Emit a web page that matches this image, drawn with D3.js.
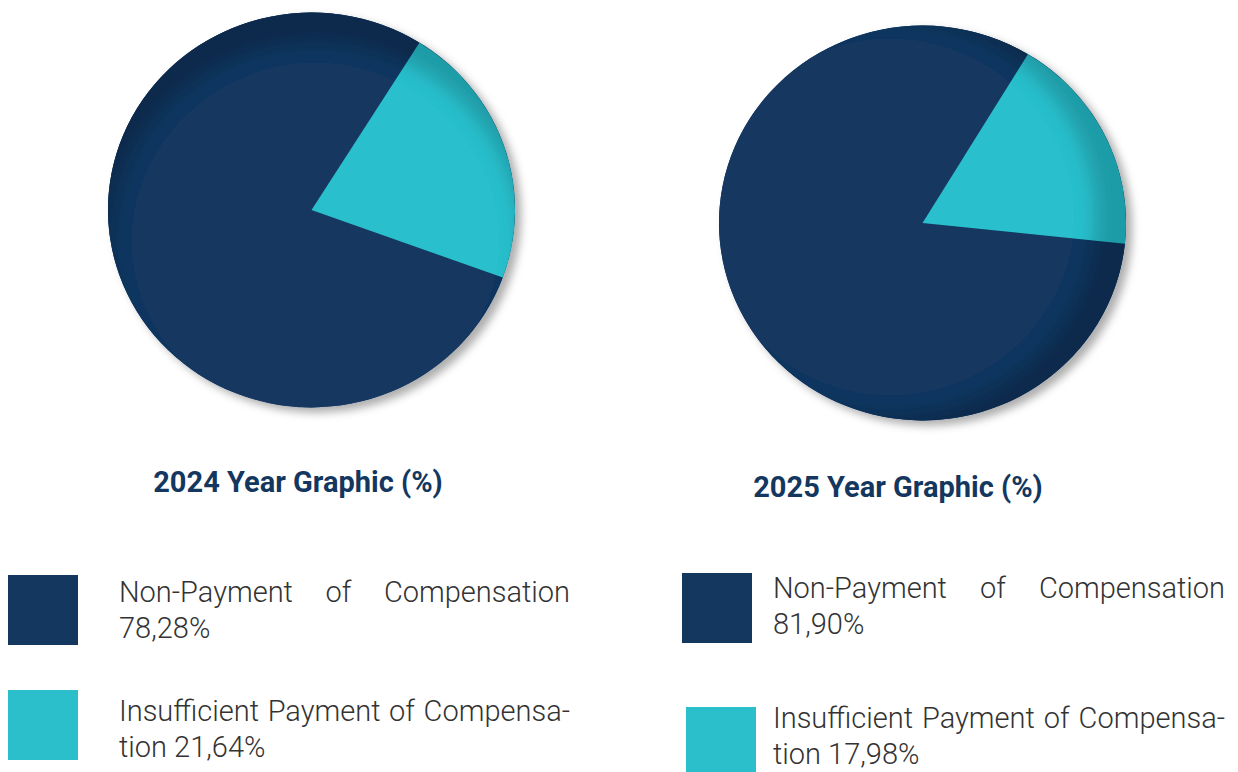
<!DOCTYPE html>
<html>
<head>
<meta charset="utf-8">
<script src="https://cdn.jsdelivr.net/npm/d3@7/dist/d3.min.js"></script>
<style>
  html, body { margin: 0; padding: 0; background: #ffffff; }
  svg { display: block; }
  text { font-family: Roboto, "Open Sans", sans-serif; }
</style>
</head>
<body>
<svg id="chart" width="1238" height="772"></svg>
<script>
// Category names and shares (%) for each year
const categories = ["Non-Payment of Compensation", "Insufficient Payment of Compensation"];
const values2024 = [78.28, 21.64];
const values2025 = [81.90, 17.98];
const years = ["2024", "2025"];
const valueLabels2024 = ["78,28%", "21,64%"];
const valueLabels2025 = ["81,90%", "17,98%"];

const colors = d3.scaleOrdinal().domain(categories).range(["#143760", "#2bbfcc"]);

const svg = d3.select("#chart");
const defs = svg.append("defs");

// Bevel-style inner shadow plus a soft drop shadow around each disc
function addShade(id, dx, dy) {
  const f = defs.append("filter").attr("id", id)
    .attr("x", "-10%").attr("y", "-10%").attr("width", "125%").attr("height", "125%");
  f.append("feOffset").attr("in", "SourceAlpha").attr("dx", dx).attr("dy", dy).attr("result", "off");
  f.append("feGaussianBlur").attr("in", "off").attr("stdDeviation", 9).attr("result", "offBlur");
  f.append("feComposite").attr("in", "SourceAlpha").attr("in2", "offBlur").attr("operator", "out").attr("result", "band");
  f.append("feFlood").attr("flood-color", "#000").attr("flood-opacity", 0.36).attr("result", "ink");
  f.append("feComposite").attr("in", "ink").attr("in2", "band").attr("operator", "in").attr("result", "inner");
  f.append("feGaussianBlur").attr("in", "SourceAlpha").attr("stdDeviation", 4.5).attr("result", "dsBlur");
  f.append("feOffset").attr("in", "dsBlur").attr("dx", 6).attr("dy", 5).attr("result", "dsOff");
  f.append("feFlood").attr("flood-color", "#000").attr("flood-opacity", 0.32).attr("result", "dsInk");
  f.append("feComposite").attr("in", "dsInk").attr("in2", "dsOff").attr("operator", "in").attr("result", "drop");
  const m = f.append("feMerge");
  m.append("feMergeNode").attr("in", "drop");
  m.append("feMergeNode").attr("in", "SourceGraphic");
  m.append("feMergeNode").attr("in", "inner");
}
addShade("shade2024", 4, 32);
addShade("shade2025", -32, -6);

const radius = 203.5;
const arc = d3.arc().innerRadius(0).outerRadius(radius);

function drawPie(values, cx, cy, endDeg, filterId) {
  const end = endDeg * Math.PI / 180;
  const slices = d3.pie().sort(null).value(d => d.value)
    .startAngle(end - 2 * Math.PI).endAngle(end)(
      values.map((v, i) => ({ name: categories[i], value: v })));
  const g = svg.append("g")
    .attr("transform", `translate(${cx},${cy}) scale(1,0.97)`)
    .attr("filter", `url(#${filterId})`);
  // full backing disc keeps the shading continuous across slice seams
  g.append("path")
    .attr("d", arc({ startAngle: 0, endAngle: 2 * Math.PI }))
    .attr("fill", colors(categories[0]));
  g.selectAll("path.slice")
    .data(slices)
    .join("path")
    .attr("class", "slice")
    .attr("d", arc)
    .attr("fill", d => colors(d.data.name));
}

drawPie(values2024, 311.5, 210, 110, "shade2024");
drawPie(values2025, 922.5, 223, 96, "shade2025");

// Titles
const titleFont = 29;
svg.append("text").attr("x", 298).attr("y", 492).attr("text-anchor", "middle")
  .attr("font-size", titleFont).attr("font-weight", 700).attr("fill", "#143760")
  .text(`${years[0]} Year Graphic (%)`);
svg.append("text").attr("x", 898).attr("y", 497).attr("text-anchor", "middle")
  .attr("font-size", titleFont).attr("font-weight", 700).attr("fill", "#143760")
  .text(`${years[1]} Year Graphic (%)`);

// Legend: swatch + justified two-line description
const legendFont = 29;
const lineGap = 36;
function justifiedLine(words, x0, x1, y) {
  const g = svg.append("g");
  const nodes = words.map(w => g.append("text").attr("y", y)
    .attr("font-size", legendFont).attr("font-weight", 300).attr("fill", "#333333").text(w));
  const widths = nodes.map(n => n.node().getComputedTextLength());
  const total = d3.sum(widths);
  const gap = words.length > 1 ? (x1 - x0 - total) / (words.length - 1) : 0;
  let x = x0;
  nodes.forEach((n, i) => { n.attr("x", x); x += widths[i] + gap; });
}
function plainLine(str, x, y) {
  svg.append("text").attr("x", x).attr("y", y)
    .attr("font-size", legendFont).attr("font-weight", 300).attr("fill", "#333333").text(str);
}

function drawLegend(sw, tx, tx1, labels) {
  svg.append("rect").attr("x", sw[0].x).attr("y", sw[0].y).attr("width", 70).attr("height", 70)
    .attr("fill", colors(categories[0]));
  justifiedLine(["Non-Payment", "of", "Compensation"], tx, tx1, sw[0].t);
  plainLine(labels[0], tx, sw[0].t + lineGap);

  svg.append("rect").attr("x", sw[1].x).attr("y", sw[1].y).attr("width", 70).attr("height", 70)
    .attr("fill", colors(categories[1]));
  justifiedLine(["Insufficient", "Payment", "of", "Compensa-"], tx, tx1, sw[1].t);
  plainLine("tion " + labels[1], tx, sw[1].t + lineGap);
}

drawLegend([{ x: 8, y: 575, t: 602 }, { x: 8, y: 690, t: 721 }], 119, 570, valueLabels2024);
drawLegend([{ x: 682, y: 573, t: 598 }, { x: 686, y: 707, t: 728 }], 773, 1225, valueLabels2025);
</script>
</body>
</html>
